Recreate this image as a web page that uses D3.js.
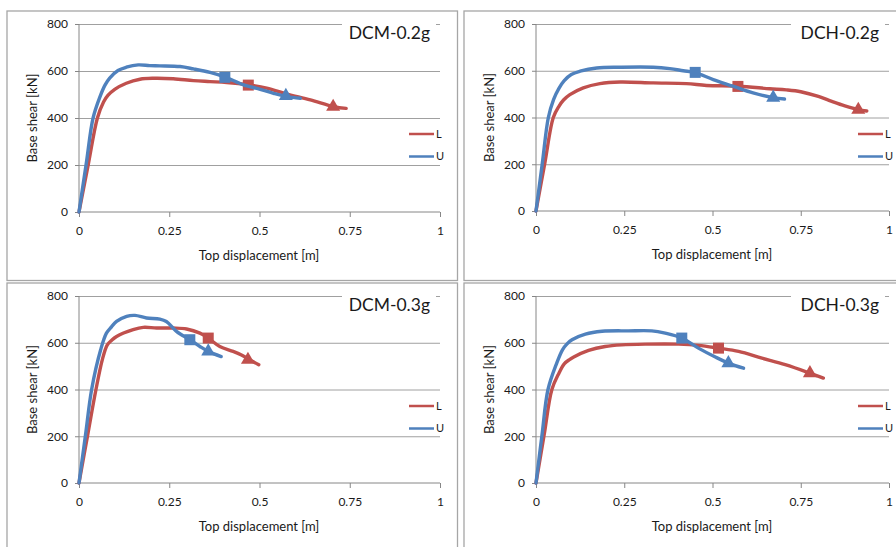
<!DOCTYPE html>
<html>
<head>
<meta charset="utf-8">
<script src="https://cdn.jsdelivr.net/npm/d3@7"></script>
<style>
  body { margin: 0; background: #fff; }
  svg { display: block; }
  text { font-family: Lato, "Open Sans", sans-serif; fill: #1a1a1a; }
</style>
</head>
<body>
<div id="chart"></div>
<script>
(function () {
  'use strict';

  // ---- data (displacement [m], base shear [kN]) ----
  const X_TICKS = [0, 0.25, 0.5, 0.75, 1];
  const X_TICK_LABELS = ['0', '0.25', '0.5', '0.75', '1'];
  const Y_TICKS = [0, 200, 400, 600, 800];
  const SERIES = ['L', 'U'];
  const TITLES = ['DCM-0.2g', 'DCH-0.2g', 'DCM-0.3g', 'DCH-0.3g'];

  const DCM02_L = [[0,0],[0.026,205],[0.051,400],[0.068,468],[0.08,496],[0.099,522],[0.131,548],[0.169,565],[0.206,569],[0.261,567],[0.317,559],[0.363,555],[0.409,551],[0.469,541],[0.52,527],[0.576,502],[0.641,477],[0.706,448],[0.74,441]];
  const DCM02_U = [[0,0],[0.02,205],[0.039,400],[0.058,490],[0.072,540],[0.085,570],[0.108,602],[0.131,616],[0.164,626],[0.196,623],[0.224,622],[0.28,619],[0.317,609],[0.363,594],[0.405,574],[0.456,541],[0.502,522],[0.539,505],[0.576,491],[0.613,484]];
  const DCH02_L = [[0,0],[0.025,205],[0.049,400],[0.065,448],[0.078,475],[0.096,498],[0.134,527],[0.181,545],[0.238,552],[0.332,548],[0.426,545],[0.483,537],[0.573,534],[0.662,523],[0.709,518],[0.75,510],[0.8,490],[0.838,469],[0.875,450],[0.913,434],[0.937,428]];
  const DCH02_U = [[0,0],[0.018,205],[0.035,400],[0.05,478],[0.065,525],[0.08,558],[0.1,584],[0.125,598],[0.172,612],[0.238,615],[0.332,615],[0.379,609],[0.417,600],[0.451,592],[0.502,562],[0.558,534],[0.615,505],[0.672,485],[0.704,479]];
  const DCM03_L = [[0,0],[0.024,205],[0.047,400],[0.065,530],[0.078,590],[0.09,610],[0.104,627],[0.15,656],[0.178,666],[0.215,663],[0.261,663],[0.298,659],[0.335,641],[0.358,620],[0.39,584],[0.427,563],[0.45,548],[0.47,530],[0.498,506]];
  const DCM03_U = [[0,0],[0.018,205],[0.035,400],[0.06,570],[0.076,641],[0.09,668],[0.104,691],[0.132,713],[0.155,717],[0.187,706],[0.224,701],[0.242,691],[0.27,649],[0.307,613],[0.335,584],[0.358,563],[0.394,541]];
  const DCH03_L = [[0,0],[0.023,205],[0.045,400],[0.065,470],[0.08,510],[0.095,528],[0.107,539],[0.149,567],[0.196,584],[0.243,591],[0.309,594],[0.404,594],[0.46,589],[0.517,577],[0.574,563],[0.64,534],[0.706,506],[0.776,470],[0.814,449]];
  const DCH03_U = [[0,0],[0.017,205],[0.034,400],[0.058,510],[0.075,570],[0.088,595],[0.102,613],[0.14,637],[0.187,649],[0.262,651],[0.328,651],[0.366,641],[0.413,620],[0.46,577],[0.508,539],[0.545,513],[0.588,491]];

  // square / triangle markers, [L, U]
  const SQUARES   = [[[0.469,540],[0.404,573]], [[0.572,533],[0.451,593]], [[0.358,620],[0.307,613]], [[0.517,577],[0.413,620]]];
  const TRIANGLES = [[[0.704,448],[0.573,494]], [[0.913,433],[0.672,485]], [[0.468,527],[0.358,563]], [[0.776,470],[0.545,513]]];

  const CURVES = [[DCM02_L, DCM02_U], [DCH02_L, DCH02_U], [DCM03_L, DCM03_U], [DCH03_L, DCH03_U]];

  // ---- layout ----
  const W = 896, H = 547;
  const COLORS = { L: '#C0504D', U: '#4F81BD' };
  const PANELS = [
    { bx: 7,   by: 11,  bw: 450.5, bh: 269.5, x: 79,  y: 24,  w: 361, h: 188 },
    { bx: 464, by: 11,  bw: 460,   bh: 269.5, x: 536, y: 24,  w: 353, h: 187 },
    { bx: 7,   by: 283, bw: 450.5, bh: 290,   x: 79,  y: 296, w: 361, h: 187 },
    { bx: 464, by: 283, bw: 460,   bh: 290,   x: 536, y: 296, w: 353, h: 187 },
  ];
  const TICK_FONT = 12;
  const LABEL_FONT = 13;

  const svg = d3.select('#chart').append('svg')
    .attr('width', W).attr('height', H)
    .attr('viewBox', `0 0 ${W} ${H}`);

  svg.append('rect').attr('width', W).attr('height', H).attr('fill', '#fff');

  PANELS.forEach((p, i) => {
    // panel frame
    svg.append('rect')
      .attr('x', p.bx).attr('y', p.by)
      .attr('width', p.bw).attr('height', p.bh)
      .attr('fill', 'none')
      .attr('stroke', '#a6a6a6')
      .attr('stroke-width', 1.3);

    const g = svg.append('g').attr('transform', `translate(${p.x},${p.y})`);

    const x = d3.scaleLinear().domain([0, 1]).range([0, p.w]);
    const y = d3.scaleLinear().domain([0, 800]).range([p.h, 0]);

    // gridlines
    g.append('g')
      .call(d3.axisLeft(y).tickValues(Y_TICKS.slice(1)).tickSize(-p.w).tickFormat(''))
      .call(s => s.select('.domain').remove())
      .call(s => s.selectAll('line').attr('stroke', '#a0a0a0').attr('stroke-width', 1));

    // y axis
    g.append('g')
      .call(d3.axisLeft(y).tickValues(Y_TICKS).tickSize(4).tickPadding(7))
      .call(s => s.select('.domain').attr('stroke', '#868686').attr('d', `M0,${p.h}V0`))
      .call(s => s.selectAll('line').attr('stroke', '#868686'))
      .call(s => s.selectAll('text').attr('font-size', TICK_FONT).attr('font-family', 'Lato, sans-serif').attr('fill', '#1a1a1a'));

    // x axis
    g.append('g')
      .attr('transform', `translate(0,${p.h})`)
      .call(d3.axisBottom(x).tickValues(X_TICKS).tickSize(5).tickPadding(9)
        .tickFormat((d, k) => X_TICK_LABELS[k]))
      .call(s => s.select('.domain').attr('stroke', '#868686').attr('d', `M0,0H${p.w}`))
      .call(s => s.selectAll('line').attr('stroke', '#868686'))
      .call(s => s.selectAll('text').attr('font-size', TICK_FONT).attr('font-family', 'Lato, sans-serif').attr('fill', '#1a1a1a'));

    // axis titles
    g.append('text')
      .attr('x', p.w / 2 - 0.5)
      .attr('y', p.h + 48)
      .attr('text-anchor', 'middle')
      .attr('font-size', LABEL_FONT)
      .text('Top displacement [m]');

    g.append('text')
      .attr('transform', `translate(-42,${p.h / 2}) rotate(-90)`)
      .attr('text-anchor', 'middle')
      .attr('font-size', LABEL_FONT)
      .text('Base shear [kN]');

    // curves, L then U
    const line = d3.line()
      .x(d => x(d[0]))
      .y(d => y(d[1]))
      .curve(d3.curveCatmullRom.alpha(0.5));

    SERIES.forEach((name, k) => {
      g.append('path')
        .datum(CURVES[i][k])
        .attr('d', line)
        .attr('fill', 'none')
        .attr('stroke', COLORS[name])
        .attr('stroke-width', 3.4)
        .attr('stroke-linejoin', 'round')
        .attr('stroke-linecap', 'round');

      const sq = SQUARES[i][k];
      g.append('path')
        .attr('d', d3.symbol(d3.symbolSquare, 121)())
        .attr('transform', `translate(${x(sq[0])},${y(sq[1])})`)
        .attr('fill', COLORS[name]);

      const tr = TRIANGLES[i][k];
      g.append('path')
        .attr('d', d3.symbol(d3.symbolTriangle, 85)())
        .attr('transform', `translate(${x(tr[0])},${y(tr[1])})`)
        .attr('fill', COLORS[name]);
    });

    // legend
    SERIES.forEach((name, k) => {
      const ly = 110 + k * 22.5;
      g.append('line')
        .attr('x1', p.w - 31).attr('x2', p.w - 6)
        .attr('y1', ly).attr('y2', ly)
        .attr('stroke', COLORS[name])
        .attr('stroke-width', 2.5);
      g.append('text')
        .attr('x', p.w - 4)
        .attr('y', ly)
        .attr('dy', '0.35em')
        .attr('font-size', 11)
        .text(name);
    });

    // title with white backing
    g.append('rect')
      .attr('x', p.w - 98).attr('y', -6)
      .attr('width', 94).attr('height', 26)
      .attr('fill', '#fff');
    g.append('text')
      .attr('x', p.w - 10)
      .attr('y', 15)
      .attr('text-anchor', 'end')
      .attr('font-size', 17.5)
      .text(TITLES[i]);
  });
})();
</script>
</body>
</html>
